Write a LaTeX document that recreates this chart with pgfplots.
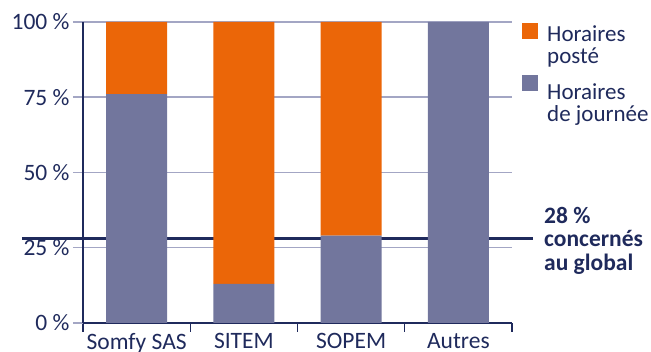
\documentclass[border=0pt]{standalone}
\usepackage{fontspec}
\setmainfont{Carlito}
\usepackage{pgfplots}
\pgfplotsset{compat=1.18}
\definecolor{orng}{HTML}{EB6608}
\definecolor{purp}{HTML}{72769D}
\definecolor{navy}{HTML}{1F2A5C}
\definecolor{gridc}{HTML}{A3A6C4}
\newcommand\st[1]{\rule[-7pt]{0pt}{#1}}
\begin{document}
\begin{tikzpicture}[x=1pt,y=1pt]
\useasboundingbox (0,0) rectangle (651,352);
\begin{axis}[
  at={(83pt,29pt)}, anchor=south west,
  scale only axis, width=429pt, height=301pt,
  xmin=-0.5, xmax=3.5, ymin=0, ymax=100,
  ybar stacked, bar width=0.57,
  clip=false,
  axis x line*=bottom, axis y line*=left,
  axis line style={navy, line width=1.2pt},
  xtick={0,1,2,3}, xticklabels={Somfy SAS, SITEM, SOPEM, Autres},
  minor xtick={-0.5,0.5,1.5,2.5,3.5},
  major x tick style={draw=none},
  minor x tick style={navy, line width=1.2pt},
  minor tick length=9pt,
  xticklabel style={yshift=3pt},
  ytick={0,25,50,75,100}, yticklabels={0 \%, 25 \%, 50 \%, 75 \%, 100 \%},
  ytick style={gridc, line width=1.5pt},
  major tick length=10pt,
  tick align=outside,
  ymajorgrids, major grid style={gridc, line width=1.5pt},
  ticklabel style={font=\fontsize{23.5}{25}\selectfont, text=navy},
  legend style={draw=none, fill=none, at={(1.0233,1.0)}, anchor=north west,
    font=\fontsize{23}{24}\selectfont, text=navy, inner sep=0pt,
    row sep=0pt, column sep=7pt, cells={anchor=base west, inner sep=0pt}},
  legend cell align=left,
  legend image code/.code={\fill[#1] (0pt,-6pt) rectangle (16pt,10pt);},
]
\addplot[fill=purp, draw=none, forget plot] coordinates {(0,76) (1,13) (2,29) (3,100)};
\addplot[fill=orng, draw=none, forget plot] coordinates {(0,24) (1,87) (2,71) (3,0)};
\addplot[navy, line width=2.5pt, sharp plot, stack plots=false, forget plot] coordinates {(-1.07,28) (3.70,28)};
\addlegendimage{fill=orng, draw=none}
\addlegendentry{\st{24pt}Horaires}
\addlegendimage{empty legend}
\addlegendentry{\st{24pt}posté}
\addlegendimage{fill=purp, draw=none}
\addlegendentry{\st{37pt}Horaires}
\addlegendimage{empty legend}
\addlegendentry{\st{24pt}de journée}
\end{axis}
\node[anchor=north west, inner sep=0pt, align=left, text=navy,
  font=\fontsize{23.5}{23.5}\selectfont\bfseries] at (544,145) {28 \%\\concernés\\au global};
\end{tikzpicture}
\end{document}
